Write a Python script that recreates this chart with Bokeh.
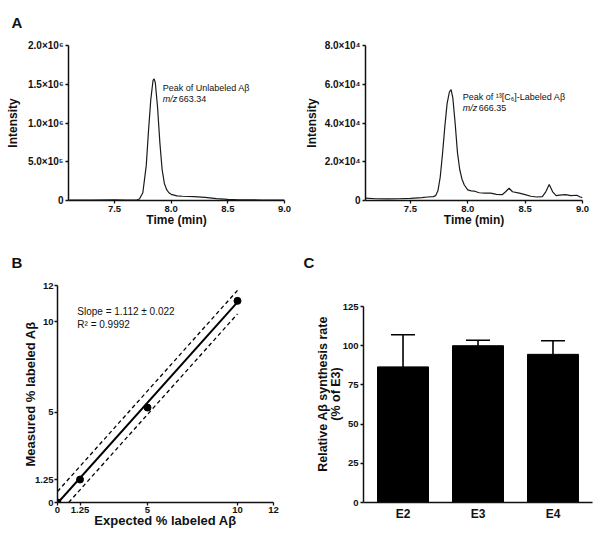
from bokeh.plotting import figure
from bokeh.layouts import column, row
from bokeh.models import Range1d, FixedTicker, Label
from bokeh.embed import file_html
from bokeh.resources import INLINE

# ---------------- Panel A data (chromatograms) ----------------
unl_time = [7.10, 7.30, 7.50, 7.60, 7.70, 7.72, 7.75, 7.78, 7.80, 7.82, 7.84, 7.85,
            7.86, 7.88, 7.90, 7.92, 7.94, 7.96, 7.98, 8.00, 8.05, 8.10, 8.20, 8.30,
            8.40, 8.50, 8.60, 8.70, 8.80, 9.00]
unl_int = [4e3, 6e3, 1.0e4, 6e3, 1.0e4, 2.0e4, 1.0e5, 4.5e5, 9.0e5, 1.30e6, 1.55e6, 1.57e6,
           1.52e6, 1.20e6, 7.5e5, 4.0e5, 2.2e5, 1.4e5, 1.0e5, 8.0e4, 6.0e4, 5.5e4, 5.0e4, 4.0e4,
           2.5e4, 1.5e4, 1.0e4, 8e3, 6e3, 5e3]

lab_time = [7.10, 7.20, 7.30, 7.40, 7.50, 7.60, 7.65, 7.70, 7.72, 7.74, 7.76, 7.78,
            7.80, 7.82, 7.84, 7.855, 7.87, 7.89, 7.91, 7.93, 7.95, 7.97, 8.00, 8.03,
            8.06, 8.10, 8.15, 8.20, 8.25, 8.30, 8.33, 8.36, 8.39, 8.45, 8.50, 8.55,
            8.60, 8.65, 8.68, 8.71, 8.74, 8.77, 8.80, 8.85, 8.90, 8.95, 8.98, 9.00]
lab_int = [1200, 900, 800, 900, 1100, 1500, 1800, 2000, 2500, 5000, 12000, 24000,
           38000, 50000, 56000, 57200, 53000, 40000, 25000, 16000, 11000, 8000, 5500, 5000,
           4800, 4000, 3800, 3800, 3200, 3000, 4500, 6300, 4500, 3800, 3000, 2200,
           1800, 2000, 4500, 8300, 4500, 2500, 2800, 3000, 2500, 2700, 1800, 1500]

unl_ticks = [0, 5e5, 1e6, 1.5e6, 2e6]
unl_labels = ["0", "5.0×10⁵", "1.0×10⁶", "1.5×10⁶", "2.0×10⁶"]
lab_ticks = [0, 2e4, 4e4, 6e4, 8e4]
lab_labels = ["0", "2.0×10⁴", "4.0×10⁴", "6.0×10⁴", "8.0×10⁴"]
time_ticks = [7.5, 8.0, 8.5, 9.0]
time_labels = ["7.5", "8.0", "8.5", "9.0"]

# ---------------- Panel B data ----------------
expected = [0, 1.25, 5, 10]
measured = [0, 1.27, 5.25, 11.15]
slope = 1.112
intercept = -0.04
band = 0.65
b_ticks = [0, 1.25, 5, 10, 12]
b_labels = ["0", "1.25", "5", "10", "12"]

# ---------------- Panel C data ----------------
genotypes = ["E2", "E3", "E4"]
rate = [86.5, 100.0, 94.5]
sem = [20.5, 3.5, 8.7]
c_ticks = [0, 25, 50, 75, 100, 125]

FONT = "Liberation Sans"


def make_fig(w, h, xr, yr, bl, br, bt, bb):
    p = figure(width=w, height=h, x_range=xr, y_range=yr, output_backend="svg",
               toolbar_location=None, min_border_left=bl, min_border_right=br,
               min_border_top=bt, min_border_bottom=bb)
    p.grid.visible = False
    p.outline_line_color = None
    for ax in p.axis:
        ax.axis_line_color = "#111111"
        ax.axis_line_width = 1.5
        ax.major_tick_line_color = "#111111"
        ax.major_tick_line_width = 1.3
        ax.major_tick_in = 0
        ax.major_tick_out = 3
        ax.minor_tick_line_color = None
        ax.major_label_text_font = FONT
        ax.major_label_text_font_style = "bold"
        ax.major_label_text_font_size = "9.5px"
        ax.major_label_text_color = "#111111"
        ax.major_label_standoff = 2
        ax.axis_label_text_font = FONT
        ax.axis_label_text_font_style = "bold"
        ax.axis_label_text_font_size = "12px"
        ax.axis_label_text_color = "#111111"
        ax.axis_label_standoff = 3
    return p


def letter(p, txt, offset, standoff):
    p.title.text = txt
    p.title.align = "left"
    p.title.vertical_align = "top"
    p.title.offset = offset
    p.title.standoff = standoff
    p.title.text_font = FONT
    p.title.text_font_style = "bold"
    p.title.text_font_size = "15px"
    p.title.text_line_height = 1.0
    p.title.text_color = "#111111"


def note(p, txt, x, y, style="normal", xoff=0, size="9px"):
    p.add_layout(Label(x=x, y=y, text=txt, x_offset=xoff, text_font=FONT,
                       text_font_style=style, text_font_size=size,
                       text_baseline="middle", text_color="#111111"))


# ---------- A left ----------
pa1 = make_fig(300, 240, Range1d(7.094, 9.0), Range1d(0, 2e6), 68, 16, 45, 40)
pa1.line(unl_time, unl_int, line_color="#1a1a1a", line_width=1.2)
pa1.xaxis.ticker = FixedTicker(ticks=time_ticks)
pa1.xaxis.major_label_overrides = dict(zip(time_ticks, time_labels))
pa1.yaxis.ticker = FixedTicker(ticks=unl_ticks)
pa1.yaxis.major_label_overrides = dict(zip(unl_ticks, unl_labels))
pa1.yaxis.major_label_text_font_size = "10px"
pa1.xaxis.axis_label = "Time (min)"
pa1.yaxis.axis_label = "Intensity"
pa1.xaxis.axis_label_standoff = -2
pa1.yaxis.axis_label_standoff = 5
note(pa1, "Peak of Unlabeled Aβ", 7.925, 1.458e6)
note(pa1, "m/z", 7.925, 1.316e6, style="italic")
note(pa1, "663.34", 7.925, 1.316e6, xoff=16)
letter(pa1, "A", -57, 26)

# ---------- A right ----------
pa2 = make_fig(300, 240, Range1d(7.109, 9.0), Range1d(0, 8e4), 65, 18, 45, 40)
pa2.line(lab_time, lab_int, line_color="#1a1a1a", line_width=1.2)
pa2.xaxis.ticker = FixedTicker(ticks=time_ticks)
pa2.xaxis.major_label_overrides = dict(zip(time_ticks, time_labels))
pa2.yaxis.ticker = FixedTicker(ticks=lab_ticks)
pa2.yaxis.major_label_overrides = dict(zip(lab_ticks, lab_labels))
pa2.yaxis.major_label_text_font_size = "10px"
pa2.xaxis.axis_label = "Time (min)"
pa2.yaxis.axis_label = "Intensity"
pa2.xaxis.axis_label_standoff = -2
pa2.yaxis.axis_label_standoff = 3
note(pa2, "Peak of ¹³[C₆]-Labeled Aβ", 7.956, 53677)
note(pa2, "m/z", 7.956, 48000, style="italic")
note(pa2, "666.35", 7.956, 48000, xoff=16)

# ---------- B ----------
pb = make_fig(300, 300, Range1d(0, 12), Range1d(0, 12), 57, 27, 45, 38)
x0 = -intercept / slope
fit_x = [x0, 10]
pb.line(fit_x, [slope * v + intercept for v in fit_x], line_color="#000000", line_width=2)
up_x = [0, 10]
pb.line(up_x, [slope * v + intercept + band for v in up_x], line_color="#000000",
        line_width=1.3, line_dash="4 3")
lo_x0 = (band - intercept) / slope
lo_x = [lo_x0, 10]
pb.line(lo_x, [slope * v + intercept - band for v in lo_x], line_color="#000000",
        line_width=1.3, line_dash="4 3")
pb.scatter(expected, measured, size=7, color="#000000")
pb.xaxis.ticker = FixedTicker(ticks=b_ticks)
pb.yaxis.ticker = FixedTicker(ticks=b_ticks)
pb.xaxis.major_label_overrides = dict(zip(b_ticks, b_labels))
pb.yaxis.major_label_overrides = dict(zip(b_ticks, b_labels))
pb.xaxis.axis_label = "Expected % labeled Aβ"
pb.yaxis.axis_label = "Measured % labeled Aβ"
pb.xaxis.major_label_standoff = 1
pb.xaxis.axis_label_standoff = -3
pb.yaxis.major_label_standoff = 1
pb.yaxis.axis_label_standoff = -6
pb.xaxis.axis_label_text_font_size = "13px"
pb.yaxis.axis_label_text_font_size = "13px"
note(pb, "Slope = 1.112 ± 0.022", 1.1, 10.56, size="10px")
note(pb, "R² = 0.9992", 1.1, 9.84, size="10px")
letter(pb, "B", -46, 26)

# ---------- C ----------
pc = make_fig(300, 300, Range1d(0.473, 3.527), Range1d(0, 138.4), 63, 8, 45, 38)
xpos = [1, 2, 3]
pc.vbar(x=xpos, top=rate, width=0.68, bottom=0, fill_color="#000000", line_color="#000000")
tops = [r + e for r, e in zip(rate, sem)]
pc.segment(x0=xpos, y0=rate, x1=xpos, y1=tops, line_color="#000000", line_width=1.6)
pc.segment(x0=[x - 0.16 for x in xpos], y0=tops, x1=[x + 0.16 for x in xpos], y1=tops,
           line_color="#000000", line_width=1.6)
pc.xaxis.ticker = FixedTicker(ticks=xpos)
pc.xaxis.major_label_overrides = dict(zip(xpos, genotypes))
pc.xaxis.major_tick_out = 0
pc.xaxis.major_label_text_font_size = "12px"
pc.xaxis.major_label_standoff = 4
pc.yaxis.ticker = FixedTicker(ticks=c_ticks)
pc.yaxis.bounds = (0, 125)
pc.yaxis.axis_label = "Relative Aβ synthesis rate\n(% of E3)"
pc.yaxis.axis_label_text_font_size = "12.5px"
pc.yaxis.axis_label_text_line_height = 0.9
pc.yaxis.axis_label_standoff = -3
letter(pc, "C", -60, 26)

layout = column(row(pa1, pa2), row(pb, pc))
open("out.html", "w").write(file_html(layout, INLINE))
